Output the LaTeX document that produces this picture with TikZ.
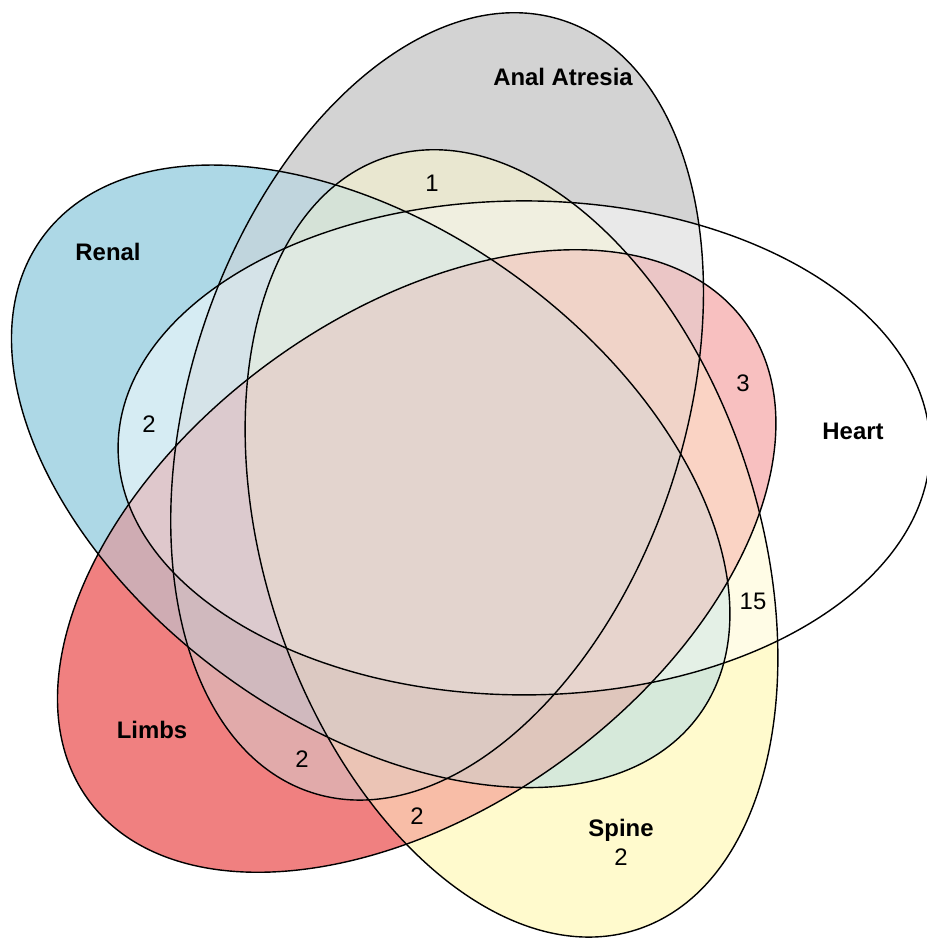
\documentclass[tikz,border=0pt]{standalone}
\usepackage{fontspec}
\setmainfont{Liberation Sans}

\definecolor{cRenal}{RGB}{173,216,230}
\definecolor{cAnal}{RGB}{211,211,211}
\definecolor{cLimbs}{RGB}{240,128,128}
\definecolor{cSpine}{RGB}{255,250,205}
\definecolor{cHeart}{RGB}{255,255,255}

\tikzset{
  renal/.style={shift={(3.707,-4.763)}, rotate=144},
  anal/.style={shift={(4.371,-4.064)}, rotate=72},
  heart/.style={shift={(5.241,-4.479)}},
  spine/.style={shift={(5.115,-5.434)}, rotate=108},
  limbs/.style={shift={(4.167,-5.610)}, rotate=36},
  vennline/.style={draw=black, line width=0.4pt},
  setname/.style={font=\fontsize{6.8}{8}\selectfont\bfseries, inner sep=0pt, text height=4.9pt, text depth=0pt},
  numlabel/.style={font=\fontsize{6.8}{8}\selectfont, inner sep=0pt, text height=4.9pt, text depth=0pt}
}

% one ellipse of the diagram, placed by the set styles above
\newcommand{\vshape}{(0,0) ellipse [x radius=4.06, y radius=2.47]}
\newcommand{\vclip}[1]{\clip[#1] \vshape;}
\newcommand{\vregion}[2]{\begin{scope}#1\fill[#2] (0,0) rectangle (9.27,-9.38);\end{scope}}

\begin{document}
\begin{tikzpicture}
\useasboundingbox (0,0) rectangle (9.27,-9.38);
\fill[white] (0,0) rectangle (9.27,-9.38);

% single sets
\fill[renal, fill=cRenal] \vshape;
\fill[anal, fill=cAnal] \vshape;
\fill[limbs, fill=cLimbs] \vshape;
\fill[spine, fill=cSpine] \vshape;
\fill[heart, fill=cHeart] \vshape;

% two sets
\vregion{\vclip{renal}\vclip{anal}}{cRenal!50!cAnal}
\vregion{\vclip{renal}\vclip{limbs}}{cRenal!50!cLimbs}
\vregion{\vclip{renal}\vclip{spine}}{cRenal!50!cSpine}
\vregion{\vclip{renal}\vclip{heart}}{cRenal!50!cHeart}
\vregion{\vclip{anal}\vclip{limbs}}{cAnal!50!cLimbs}
\vregion{\vclip{anal}\vclip{spine}}{cAnal!50!cSpine}
\vregion{\vclip{anal}\vclip{heart}}{cAnal!50!cHeart}
\vregion{\vclip{limbs}\vclip{spine}}{cLimbs!50!cSpine}
\vregion{\vclip{limbs}\vclip{heart}}{cLimbs!50!cHeart}
\vregion{\vclip{spine}\vclip{heart}}{cSpine!50!cHeart}

% three sets
\vregion{\vclip{renal}\vclip{anal}\vclip{limbs}}{cRenal!50!cAnal!66.67!cLimbs}
\vregion{\vclip{renal}\vclip{anal}\vclip{spine}}{cRenal!50!cAnal!66.67!cSpine}
\vregion{\vclip{renal}\vclip{anal}\vclip{heart}}{cRenal!50!cAnal!66.67!cHeart}
\vregion{\vclip{renal}\vclip{limbs}\vclip{spine}}{cRenal!50!cLimbs!66.67!cSpine}
\vregion{\vclip{renal}\vclip{limbs}\vclip{heart}}{cRenal!50!cLimbs!66.67!cHeart}
\vregion{\vclip{renal}\vclip{spine}\vclip{heart}}{cRenal!50!cSpine!66.67!cHeart}
\vregion{\vclip{anal}\vclip{limbs}\vclip{spine}}{cAnal!50!cLimbs!66.67!cSpine}
\vregion{\vclip{anal}\vclip{limbs}\vclip{heart}}{cAnal!50!cLimbs!66.67!cHeart}
\vregion{\vclip{anal}\vclip{spine}\vclip{heart}}{cAnal!50!cSpine!66.67!cHeart}
\vregion{\vclip{limbs}\vclip{spine}\vclip{heart}}{cLimbs!50!cSpine!66.67!cHeart}

% four sets
\vregion{\vclip{renal}\vclip{anal}\vclip{limbs}\vclip{spine}}{cRenal!50!cAnal!66.67!cLimbs!75!cSpine}
\vregion{\vclip{renal}\vclip{anal}\vclip{limbs}\vclip{heart}}{cRenal!50!cAnal!66.67!cLimbs!75!cHeart}
\vregion{\vclip{renal}\vclip{anal}\vclip{spine}\vclip{heart}}{cRenal!50!cAnal!66.67!cSpine!75!cHeart}
\vregion{\vclip{renal}\vclip{limbs}\vclip{spine}\vclip{heart}}{cRenal!50!cLimbs!66.67!cSpine!75!cHeart}
\vregion{\vclip{anal}\vclip{limbs}\vclip{spine}\vclip{heart}}{cAnal!50!cLimbs!66.67!cSpine!75!cHeart}

% all five
\vregion{\vclip{renal}\vclip{anal}\vclip{limbs}\vclip{spine}\vclip{heart}}{cRenal!50!cAnal!66.67!cLimbs!75!cSpine!80!cHeart}

% outlines
\draw[renal, vennline] \vshape;
\draw[anal, vennline] \vshape;
\draw[limbs, vennline] \vshape;
\draw[spine, vennline] \vshape;
\draw[heart, vennline] \vshape;

% labels
\node[setname] (lblAnal) at (5.63,-0.77) {Anal Atresia};
\node[setname] (lblRenal) at (1.08,-2.52) {Renal};
\node[setname] (lblHeart) at (8.53,-4.31) {Heart};
\node[setname] (lblLimbs) at (1.52,-7.30) {Limbs};
\node[setname] (lblSpine) at (6.21,-8.28) {Spine};
\node[numlabel] (nSpine) at (6.21,-8.57) {2};
\node[numlabel] (nAS) at (4.32,-1.83) {1};
\node[numlabel] (nRH) at (1.49,-4.24) {2};
\node[numlabel] (nLH) at (7.43,-3.83) {3};
\node[numlabel] (nSH) at (7.53,-6.01) {15};
\node[numlabel] (nAL) at (3.02,-7.59) {2};
\node[numlabel] (nLS) at (4.17,-8.16) {2};
\end{tikzpicture}
\end{document}
